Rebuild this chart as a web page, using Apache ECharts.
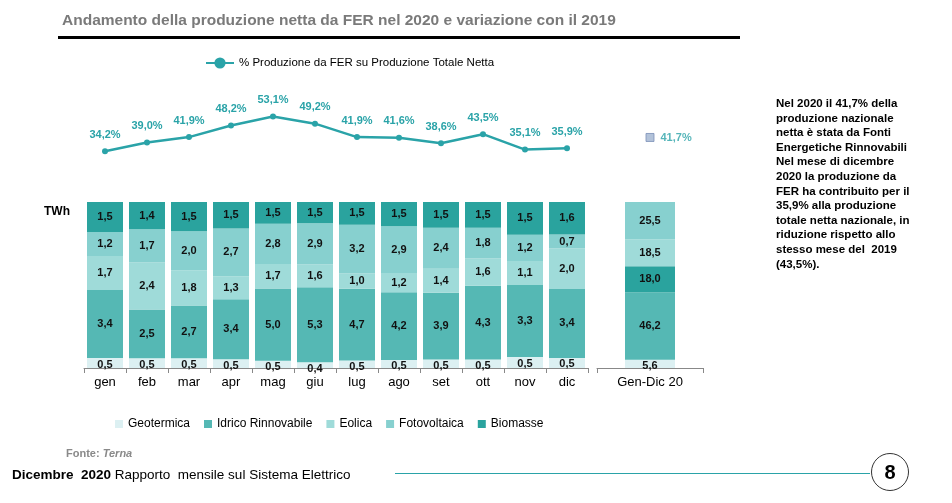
<!DOCTYPE html>
<html><head><meta charset="utf-8">
<script src="https://cdn.jsdelivr.net/npm/echarts@6/dist/echarts.min.js"></script>
<style>
body{margin:0;background:#fff;font-family:Arial,"Liberation Sans",sans-serif}
#c{position:absolute;left:0;top:0;width:952px;height:503px}
.t{position:absolute;white-space:nowrap}
</style></head><body>
<div id="c"></div>
<div class="t" style="left:62px;top:11px;font-size:15.5px;font-weight:bold;color:#7a7a7a">Andamento della produzione netta da FER nel 2020 e variazione con il 2019</div>
<div style="position:absolute;left:58px;top:36px;width:682px;height:3px;background:#000"></div>
<div class="t" style="left:776px;top:96px;font-size:11.5px;font-weight:bold;line-height:14.6px;color:#000">Nel 2020 il 41,7% della<br>produzione nazionale<br>netta è stata da Fonti<br>Energetiche Rinnovabili<br>Nel mese di dicembre<br>2020 la produzione da<br>FER ha contribuito per il<br>35,9% alla produzione<br>totale netta nazionale, in<br>riduzione rispetto allo<br>stesso mese del&nbsp; 2019<br>(43,5%).</div>
<div class="t" style="left:44px;top:204px;font-size:12px;font-weight:bold">TWh</div>
<div class="t" style="left:66px;top:447px;font-size:11px;font-weight:bold;color:#8a8a8a">Fonte: <i>Terna</i></div>
<div class="t" style="left:12px;top:467px;font-size:13.5px;color:#000"><b>Dicembre&nbsp; 2020</b> Rapporto&nbsp; mensile sul Sistema Elettrico</div>
<div style="position:absolute;left:395px;top:473px;width:475px;height:1px;background:#2aa3a8"></div>
<div style="position:absolute;left:871px;top:453px;width:36px;height:36px;border:1.5px solid #333;border-radius:50%;text-align:center;line-height:36px;font-size:20px;font-weight:bold">8</div>
<script>
var months = ['gen','feb','mar','apr','mag','giu','lug','ago','set','ott','nov','dic'];
var pctFER = [34.2,39.0,41.9,48.2,53.1,49.2,41.9,41.6,38.6,43.5,35.1,35.9];
var geotermica = [0.5,0.5,0.5,0.5,0.5,0.4,0.5,0.5,0.5,0.5,0.5,0.5];
var idrico = [3.4,2.5,2.7,3.4,5.0,5.3,4.7,4.2,3.9,4.3,3.3,3.4];
var eolica = [1.7,2.4,1.8,1.3,1.7,1.6,1.0,1.2,1.4,1.6,1.1,2.0];
var fotovoltaica = [1.2,1.7,2.0,2.7,2.8,2.9,3.2,2.9,2.4,1.8,1.2,0.7];
var biomasse = [1.5,1.4,1.5,1.5,1.5,1.5,1.5,1.5,1.5,1.5,1.5,1.6];
var annualCat = ['Gen-Dic 20'];
var annualPct = 41.7;
// annual bar segments bottom to top, as drawn
var annualVals = [5.6,46.2,18.0,18.5,25.5];
var annualCols = ['#dcf0f2','#55b8b4','#2aa39e','#9fdbd9','#87d0cf'];

var names = ['Geotermica','Idrico Rinnovabile','Eolica','Fotovoltaica','Biomasse'];
var cols = ['#dcf0f2','#55b8b4','#9fdbd9','#87d0cf','#2aa39e'];
var raw = [geotermica,idrico,eolica,fotovoltaica,biomasse];
var totals = months.map(function(m,i){ return raw.reduce(function(s,a){return s+a[i];},0); });
var annTot = annualVals.reduce(function(s,v){return s+v;},0);
function fmt(v){ return v.toFixed(1).replace('.',','); }
var lbl = {show:true,color:'#111',fontSize:11,fontWeight:'bold',fontFamily:'Arial',
  formatter:function(p){ return fmt(p.data.raw); }};

var series = raw.map(function(arr,k){
  return {name:names[k],type:'bar',stack:'m',xAxisIndex:0,yAxisIndex:0,barWidth:36,
    itemStyle:{color:cols[k],borderColor:'#fff',borderWidth:0},
    label:k===0?Object.assign({},lbl,{position:'insideTop',offset:[0,-4]}):lbl,
    data:arr.map(function(v,i){ return {value:v/totals[i]*100,raw:v}; })};
});
annualVals.forEach(function(v,k){
  series.push({type:'bar',stack:'a',xAxisIndex:1,yAxisIndex:1,barWidth:50,
    itemStyle:{color:annualCols[k]},
    label:k===0?Object.assign({},lbl,{position:'insideTop',offset:[0,-4]}):lbl,
    data:[{value:v/annTot*100,raw:v}]});
});
series.push({name:'% Produzione da FER su Produzione Totale Netta',type:'line',xAxisIndex:2,yAxisIndex:2,
  data:pctFER,symbol:'circle',symbolSize:6,lineStyle:{color:'#2aa3a8',width:2.5},itemStyle:{color:'#2aa3a8'},
  label:{show:true,position:'top',distance:8,color:'#2aa3a8',fontSize:11,fontWeight:'bold',
    formatter:function(p){return fmt(p.value)+'%';}}});
series.push({type:'scatter',xAxisIndex:3,yAxisIndex:3,data:[annualPct],symbol:'rect',symbolSize:8,
  itemStyle:{color:'#9fb3d0',borderColor:'#7a90b8',borderWidth:1},
  label:{show:true,position:'right',distance:6,color:'#2aa3a8',fontSize:11,fontWeight:'bold',
    formatter:function(p){return fmt(p.value)+'%';}}});

var hidden = {show:false};
var chart = echarts.init(document.getElementById('c'));
chart.setOption({
  animation:false,
  legend:[
    {data:['% Produzione da FER su Produzione Totale Netta'],top:52,left:200,itemWidth:28,
      textStyle:{fontSize:11.5,color:'#000',fontFamily:'Arial'}},
    {data:names,top:413,left:110,itemGap:14,itemWidth:8,itemHeight:8,icon:'rect',
      textStyle:{fontSize:12,color:'#000',fontFamily:'Arial'}}
  ],
  grid:[
    {left:84,width:504,top:202,height:166},
    {left:597,width:106,top:202,height:166},
    {left:84,width:504,top:113,height:46},
    {left:597,width:106,top:113,height:46}
  ],
  xAxis:[
    {type:'category',gridIndex:0,data:months,axisTick:{show:true,length:5,lineStyle:{color:'#888'}},
      axisLine:{lineStyle:{color:'#888'}},axisLabel:{color:'#000',fontSize:13,margin:8}},
    {type:'category',gridIndex:1,data:annualCat,axisTick:{show:true,length:5,lineStyle:{color:'#888'}},
      axisLine:{lineStyle:{color:'#888'}},axisLabel:{color:'#000',fontSize:13,margin:8}},
    {type:'category',gridIndex:2,data:months,show:false},
    {type:'category',gridIndex:3,data:annualCat,show:false}
  ],
  yAxis:[
    {type:'value',gridIndex:0,min:0,max:100,show:false,splitLine:hidden},
    {type:'value',gridIndex:1,min:0,max:100,show:false,splitLine:hidden},
    {type:'value',gridIndex:2,min:30,max:55,show:false,splitLine:hidden},
    {type:'value',gridIndex:3,min:30,max:55,show:false,splitLine:hidden}
  ],
  series:series
});
</script>
</body></html>
